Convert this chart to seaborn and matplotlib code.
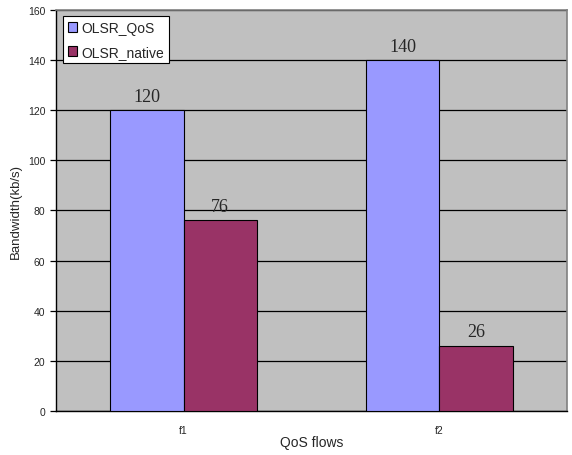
import pandas as pd
import matplotlib
matplotlib.use("Agg")
import matplotlib.pyplot as plt
import seaborn as sns

# data
flows = ["f1", "f2"]
olsr_qos = [120, 140]
olsr_native = [76, 26]

df = pd.DataFrame({
    "flow": flows * 2,
    "bandwidth": olsr_qos + olsr_native,
    "protocol": ["OLSR_QoS"] * len(flows) + ["OLSR_native"] * len(flows),
})

sns.set_style("white")
plt.rcParams["font.family"] = ["Liberation Sans", "DejaVu Sans"]

fig = plt.figure(figsize=(5.72, 4.56), dpi=100)
ax = fig.add_axes([0.0974, 0.0965, 0.8939, 0.8795])
ax.set_facecolor("#C0C0C0")

sns.barplot(data=df, x="flow", y="bandwidth", hue="protocol",
            palette=["#9999FF", "#993366"], width=0.575,
            edgecolor="black", linewidth=0.8, saturation=1, ax=ax, zorder=3)

for c in ax.containers:
    ax.bar_label(c, fmt="%d", padding=4, fontsize=13,
                 fontfamily=["Liberation Serif", "DejaVu Serif"])

ax.set_xlim(-0.5, 1.5)
ax.set_ylim(0, 160)
ax.set_yticks(range(0, 161, 20))
ax.yaxis.grid(True, color="black", linewidth=0.9, zorder=0)
ax.set_axisbelow(True)

# category dividers as major ticks, labels on minor ticks
ax.set_xticks([-0.5, 0.5, 1.5])
ax.set_xticklabels([])
ax.set_xticks([0, 1], minor=True)
ax.set_xticklabels(flows, minor=True)
ax.tick_params(axis="x", which="major", direction="out", length=4, width=0.9, color="black")
ax.tick_params(axis="x", which="minor", length=0, labelsize=7.5, pad=10)
ax.tick_params(axis="y", direction="out", length=4, width=0.9, color="black", labelsize=7.5, left=True)

for s in ["left", "bottom"]:
    ax.spines[s].set_color("black")
    ax.spines[s].set_linewidth(1.0)
for s in ["top", "right"]:
    ax.spines[s].set_color("#808080")
    ax.spines[s].set_linewidth(1.2)

ax.set_xlabel("QoS flows", fontsize=10, labelpad=0)
ax.set_ylabel("Bandwidth(kb/s)", fontsize=9.5, labelpad=4)

leg = ax.legend(loc="upper left", bbox_to_anchor=(0.014, 0.985), fontsize=10,
                frameon=True, fancybox=False, edgecolor="black", facecolor="white",
                framealpha=1, handlelength=0.7, handleheight=0.7, handletextpad=0.3,
                borderpad=0.35, labelspacing=0.7, borderaxespad=0)
leg.get_frame().set_linewidth(0.8)

fig.savefig("out.png", dpi=100, facecolor="white")
